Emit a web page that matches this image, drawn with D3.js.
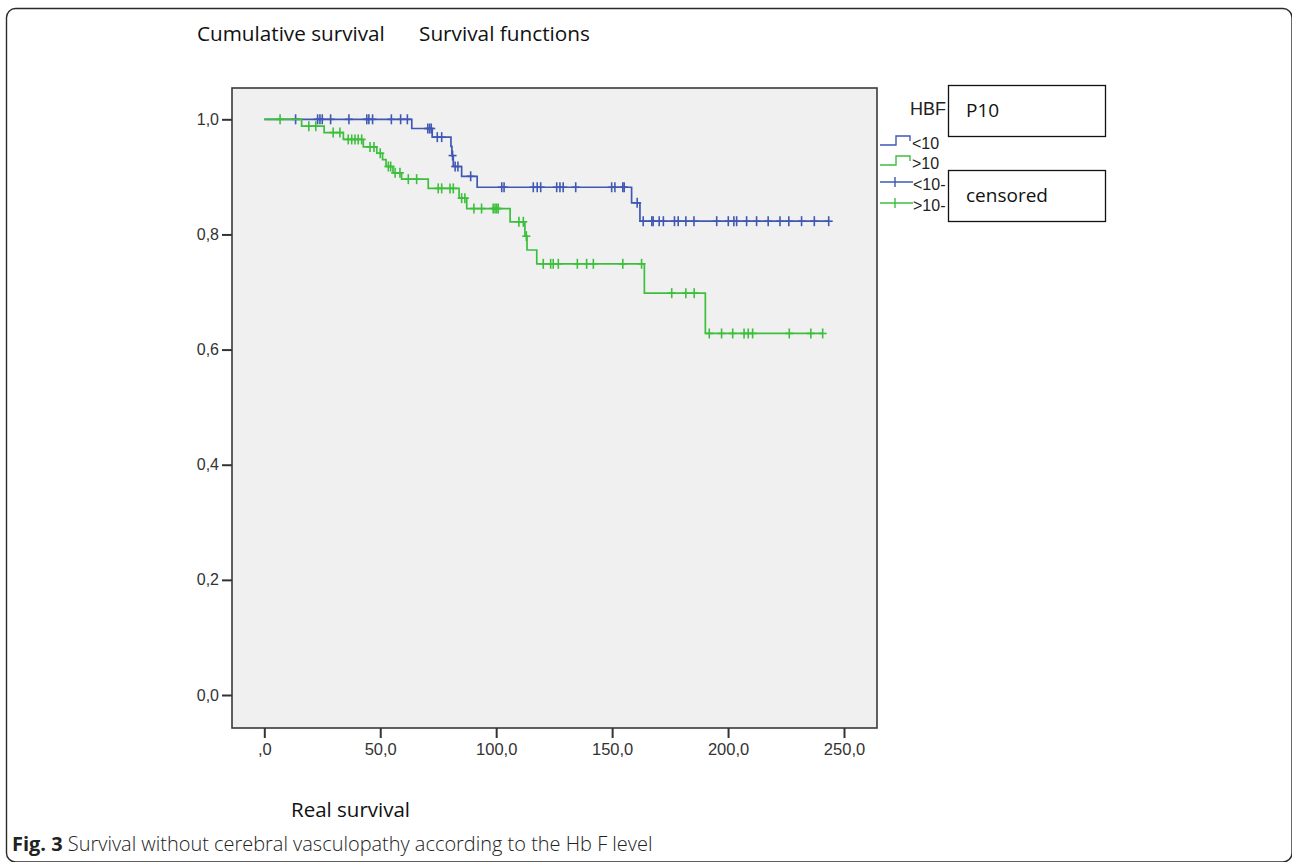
<!DOCTYPE html>
<html>
<head>
<meta charset="utf-8">
<script src="https://cdn.jsdelivr.net/npm/d3@7"></script>
<style>
  html, body { margin: 0; padding: 0; background: #ffffff; }
  svg { display: block; }
</style>
</head>
<body>
<svg id="chart" width="1292" height="862"></svg>
<script>
// ---------------- DATA ----------------
const groups = ["<10", ">10"];
const groupColors = ["#4058b4", "#3cbf3c"];

// HBF < 10 : Kaplan-Meier event steps and censored times
const blueEventTimes = [63.6, 72.4, 80.5, 80.9, 81.5, 85.1, 91.8, 158.4, 162.0];
const blueSurvival   = [0.984, 0.969, 0.953, 0.937, 0.918, 0.901, 0.882, 0.855, 0.823];
const blueCensored   = [13.5, 23.0, 24.0, 25.0, 28.6, 36.5, 44.2, 45.1, 46.7, 54.8, 58.8, 61.7,
  70.5, 71.3, 72.0, 74.6, 76.5, 81.2, 82.3, 83.5, 89.0, 102.4, 103.4, 116.0, 117.7, 119.2,
  126.1, 127.5, 128.9, 134.3, 149.8, 151.2, 154.6, 155.2, 160.8, 163.4, 167.1, 167.7, 170.3,
  172.1, 176.9, 178.5, 181.8, 185.3, 195.1, 200.1, 202.5, 203.7, 208.0, 212.3, 217.3, 222.4,
  226.2, 231.7, 237.2, 243.4];

// HBF > 10
const greenEventTimes = [16.1, 25.8, 34.1, 42.7, 48.5, 51.0, 52.5, 55.5, 59.2, 70.7, 84.0, 87.3,
  106.0, 112.4, 113.3, 117.5, 163.9, 190.2];
const greenSurvival   = [0.988, 0.977, 0.965, 0.952, 0.941, 0.930, 0.918, 0.907, 0.896, 0.880,
  0.863, 0.845, 0.822, 0.797, 0.773, 0.749, 0.698, 0.628];
const greenCensored   = [6.8, 19.2, 22.2, 29.7, 32.6, 36.2, 37.7, 39.1, 40.5, 42.0, 45.6, 47.3,
  50.0, 53.5, 54.5, 56.4, 58.5, 62.1, 65.7, 75.0, 76.5, 80.1, 81.5, 85.1, 86.5, 90.4, 93.7,
  98.7, 99.5, 100.2, 100.9, 109.8, 111.7, 113.0, 120.3, 123.5, 124.6, 126.8, 135.0, 139.0,
  141.9, 154.6, 162.7, 175.7, 181.8, 185.4, 191.9, 197.2, 202.0, 206.9, 208.7, 210.6, 226.4,
  235.7, 240.8];

const xTickValues = [0, 50, 100, 150, 200, 250];
const xTickLabels = [",0", "50,0", "100,0", "150,0", "200,0", "250,0"];
const yTickValues = [0, 0.2, 0.4, 0.6, 0.8, 1.0];
const yTickLabels = ["0,0", "0,2", "0,4", "0,6", "0,8", "1,0"];

const yAxisTitle = "Cumulative survival";
const chartTitle = "Survival functions";
const xAxisTitle = "Real survival";
const legendTitle = "HBF";
const legendStepLabels = ["<10", ">10"];
const legendCensorLabels = ["<10-", ">10-"];
const boxLabels = ["P10", "censored"];
const captionBold = "Fig. 3";
const captionText = " Survival without cerebral vasculopathy according to the Hb F level";

// ---------------- LAYOUT ----------------
const svg = d3.select("#chart");
const frame = { left: 232, right: 877, top: 88, bottom: 728 };
const x = d3.scaleLinear().domain([0, 250]).range([264.3, 844]);
const y = d3.scaleLinear().domain([0, 1]).range([695, 119.3]);

function fitWidth(sel, target) {
  const w = sel.node().getComputedTextLength();
  const fs = parseFloat(sel.attr("font-size"));
  if (w > 0) sel.attr("font-size", fs * target / w);
  return sel;
}

// outer rounded frame
svg.append("rect")
  .attr("x", 6.5).attr("y", 8.5).attr("width", 1285.5).attr("height", 853.5)
  .attr("rx", 9).attr("ry", 9)
  .attr("fill", "none").attr("stroke", "#2a2a2a").attr("stroke-width", 1.4);

// plot background
svg.append("rect")
  .attr("x", frame.left).attr("y", frame.top)
  .attr("width", frame.right - frame.left).attr("height", frame.bottom - frame.top)
  .attr("fill", "#f0f0f0");

// survival step curves
function stepPoints(times, surv, censored) {
  const pts = [[0, 1]];
  let cur = 1;
  times.forEach((t, i) => { pts.push([t, cur]); pts.push([t, surv[i]]); cur = surv[i]; });
  const tEnd = d3.max(censored.concat(times));
  pts.push([tEnd, cur]);
  return pts;
}
function survAt(times, surv, t) {
  let s = 1;
  times.forEach((tt, i) => { if (tt <= t) s = surv[i]; });
  return s;
}

const series = [
  { times: blueEventTimes, surv: blueSurvival, cens: blueCensored, color: groupColors[0] },
  { times: greenEventTimes, surv: greenSurvival, cens: greenCensored, color: groupColors[1] }
];

const line = d3.line().x(d => x(d[0])).y(d => y(d[1]));

series.forEach(s => {
  const g = svg.append("g");
  g.append("path")
    .attr("d", line(stepPoints(s.times, s.surv, s.cens)))
    .attr("fill", "none").attr("stroke", s.color).attr("stroke-width", 1.7)
    .attr("stroke-linejoin", "miter");
  const marks = g.selectAll("g.cm").data(s.cens).join("g")
    .attr("transform", d => `translate(${x(d)},${y(survAt(s.times, s.surv, d))})`);
  marks.append("line").attr("x1", 0).attr("x2", 0).attr("y1", -5).attr("y2", 5)
    .attr("stroke", s.color).attr("stroke-width", 1.6);
  marks.append("line").attr("x1", -4).attr("x2", 4).attr("y1", 0).attr("y2", 0)
    .attr("stroke", s.color).attr("stroke-width", 1.6);
});

// frame border
svg.append("rect")
  .attr("x", frame.left).attr("y", frame.top)
  .attr("width", frame.right - frame.left).attr("height", frame.bottom - frame.top)
  .attr("fill", "none").attr("stroke", "#3a3a3a").attr("stroke-width", 1.6);

// axes
const xAxis = d3.axisBottom(x).tickValues(xTickValues)
  .tickFormat((d, i) => xTickLabels[i]).tickSize(10).tickPadding(5);
const gx = svg.append("g").attr("transform", `translate(0,${frame.bottom})`).call(xAxis);
gx.select(".domain").remove();
gx.selectAll(".tick line").attr("stroke", "#333").attr("stroke-width", 2);
gx.selectAll(".tick text").attr("font-family", "'Liberation Sans', Arial, sans-serif")
  .attr("font-size", 16.5).attr("fill", "#333");

const yAxis = d3.axisLeft(y).tickValues(yTickValues)
  .tickFormat((d, i) => yTickLabels[i]).tickSize(10).tickPadding(3);
const gy = svg.append("g").attr("transform", `translate(${frame.left},0)`).call(yAxis);
gy.select(".domain").remove();
gy.selectAll(".tick line").attr("stroke", "#333").attr("stroke-width", 2);
gy.selectAll(".tick text").attr("font-family", "'Liberation Sans', Arial, sans-serif")
  .attr("font-size", 16).attr("fill", "#333");

// titles
const titleFont = "'Open Sans', 'Noto Sans', sans-serif";
fitWidth(svg.append("text").attr("x", 197).attr("y", 41).attr("font-family", titleFont)
  .attr("font-size", 20).attr("fill", "#111").text(yAxisTitle), 188);
fitWidth(svg.append("text").attr("x", 419).attr("y", 41).attr("font-family", titleFont)
  .attr("font-size", 20).attr("fill", "#111").text(chartTitle), 171);
fitWidth(svg.append("text").attr("x", 291).attr("y", 817).attr("font-family", titleFont)
  .attr("font-size", 20).attr("fill", "#111").text(xAxisTitle), 119);

// caption
const cap = svg.append("text").attr("x", 12).attr("y", 851)
  .attr("font-family", titleFont).attr("font-size", 17).attr("fill", "#222");
cap.append("tspan").attr("font-weight", "bold").text(captionBold);
cap.append("tspan").attr("font-weight", 300).text(captionText);
fitWidth(cap, 641);

// legend
const legFont = "'Liberation Sans', Arial, sans-serif";
svg.append("text").attr("x", 946).attr("y", 115).attr("text-anchor", "end")
  .attr("font-family", legFont).attr("font-size", 18).attr("fill", "#222").text(legendTitle);

const stepRowY = [145, 165];
groups.forEach((gname, i) => {
  const yl = stepRowY[i];
  svg.append("path")
    .attr("d", `M880,${yl} H896 V${yl - 9} H910 V${yl - 4}`)
    .attr("fill", "none").attr("stroke", groupColors[i]).attr("stroke-width", 1.4);
  svg.append("text").attr("x", 912).attr("y", yl + 4)
    .attr("font-family", legFont).attr("font-size", 16).attr("fill", "#222")
    .text(legendStepLabels[i]);
});
const censRowY = [182, 203];
groups.forEach((gname, i) => {
  const yl = censRowY[i];
  svg.append("line").attr("x1", 880).attr("x2", 913).attr("y1", yl).attr("y2", yl)
    .attr("stroke", groupColors[i]).attr("stroke-width", 1.4);
  svg.append("line").attr("x1", 895).attr("x2", 895).attr("y1", yl - 5).attr("y2", yl + 5)
    .attr("stroke", groupColors[i]).attr("stroke-width", 1.4);
  svg.append("text").attr("x", 913).attr("y", yl + 8)
    .attr("font-family", legFont).attr("font-size", 16).attr("fill", "#222")
    .text(legendCensorLabels[i]);
});

// annotation boxes
const boxY = [85.5, 170.5];
boxLabels.forEach((lab, i) => {
  svg.append("rect").attr("x", 948.5).attr("y", boxY[i]).attr("width", 157).attr("height", 51)
    .attr("fill", "#fff").attr("stroke", "#111").attr("stroke-width", 1.3);
  svg.append("text").attr("x", 966).attr("y", boxY[i] + 31)
    .attr("font-family", titleFont).attr("font-size", 19).attr("fill", "#111").text(lab);
});
</script>
</body>
</html>
